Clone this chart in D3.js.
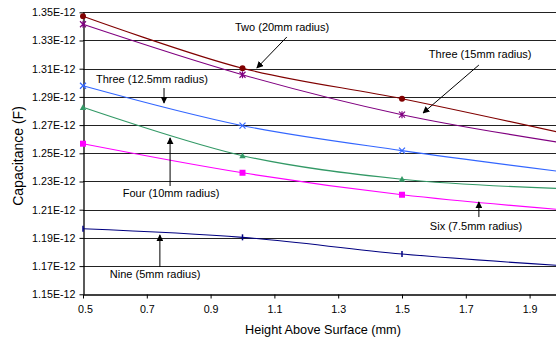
<!DOCTYPE html>
<html><head><meta charset="utf-8">
<script src="https://cdn.jsdelivr.net/npm/d3@7"></script>
<style>
html,body{margin:0;padding:0;background:#fff;overflow:hidden}
text{font-family:"Liberation Sans",Arial,sans-serif;fill:#000}
</style></head>
<body><svg id="chart" width="556" height="340"></svg>
<script>
// ---- data ----
const heights = [0.5, 1.0, 1.5, 2.0];
const twoR20   = [1.3472e-12, 1.3103e-12, 1.2887e-12, 1.2645e-12];
const threeR15 = [1.3415e-12, 1.3057e-12, 1.2774e-12, 1.2575e-12];
const threeR125= [1.2979e-12, 1.2696e-12, 1.2519e-12, 1.2370e-12];
const fourR10  = [1.2826e-12, 1.2483e-12, 1.2316e-12, 1.2250e-12];
const sixR75   = [1.2568e-12, 1.2362e-12, 1.2206e-12, 1.2100e-12];
const nineR5   = [1.1965e-12, 1.1904e-12, 1.1786e-12, 1.1703e-12];
const xTicks = [0.5, 0.7, 0.9, 1.1, 1.3, 1.5, 1.7, 1.9];
const yTicks = [1.15e-12,1.17e-12,1.19e-12,1.21e-12,1.23e-12,1.25e-12,1.27e-12,1.29e-12,1.31e-12,1.33e-12,1.35e-12];
const seriesNames = ["Two (20mm radius)","Three (15mm radius)","Three (12.5mm radius)","Four (10mm radius)","Six (7.5mm radius)","Nine (5mm radius)"];
const xTitle = "Height Above Surface (mm)";
const yTitle = "Capacitance (F)";

// ---- layout / styles ----
const series = [
  {name:seriesNames[0], values:twoR20,    color:"#800000", marker:"circle"},
  {name:seriesNames[1], values:threeR15,  color:"#800080", marker:"star"},
  {name:seriesNames[2], values:threeR125, color:"#3366FF", marker:"x"},
  {name:seriesNames[3], values:fourR10,   color:"#339966", marker:"triangle"},
  {name:seriesNames[4], values:sixR75,    color:"#FF00FF", marker:"square"},
  {name:seriesNames[5], values:nineR5,    color:"#000080", marker:"dash"}
];
// annotation label centre and arrow (from -> tip), in data units
const notes = [
  {s:0, lx:1.124, ly:1.3389e-12, ax1:1.139, ay1:1.3325e-12, ax2:1.045, ay2:1.3105e-12},
  {s:1, lx:1.745, ly:1.3197e-12, ax1:1.741, ay1:1.3126e-12, ax2:1.566, ay2:1.2786e-12},
  {s:2, lx:0.716, ly:1.3020e-12, ax1:0.754, ay1:1.2963e-12, ax2:0.754, ay2:1.2857e-12},
  {s:3, lx:0.776, ly:1.2211e-12, ax1:0.773, ay1:1.2268e-12, ax2:0.773, ay2:1.2609e-12},
  {s:4, lx:1.732, ly:1.1977e-12, ax1:1.741, ay1:1.2048e-12, ax2:1.741, ay2:1.2155e-12},
  {s:5, lx:0.726, ly:1.1637e-12, ax1:0.741, ay1:1.1694e-12, ax2:0.741, ay2:1.1921e-12}
];

const svg = d3.select("#chart");
const L = 83, R = 561.5, T = 12.3, B = 294.3;
const x = d3.scaleLinear().domain([0.5, 2.0]).range([L, R]);
const y = d3.scaleLinear().domain([1.15e-12, 1.35e-12]).range([B, T]);

const defs = svg.append("defs");
defs.append("marker").attr("id","arr").attr("viewBox","0 0 10 10")
  .attr("refX",9).attr("refY",5).attr("markerWidth",7).attr("markerHeight",7)
  .attr("markerUnits","userSpaceOnUse").attr("orient","auto")
  .append("path").attr("d","M0,0 L10,5 L0,10 z").attr("fill","#000");

// gridlines
svg.append("g").selectAll("line").data(yTicks.slice(1)).join("line")
  .attr("x1",L).attr("x2",556).attr("y1",d=>Math.round(y(d))+0.5).attr("y2",d=>Math.round(y(d))+0.5)
  .attr("stroke","#222").attr("stroke-width",1);

// axes
const fmtY = d => (d*1e12).toFixed(2) + "E-12";
const yAxis = svg.append("g").attr("transform",`translate(${L+0.5},0)`)
  .call(d3.axisLeft(y).tickValues(yTicks).tickFormat(fmtY).tickSize(4).tickSizeOuter(0));
const xAxis = svg.append("g").attr("transform",`translate(0,${Math.round(B)+0.5})`)
  .call(d3.axisBottom(x).tickValues(xTicks).tickFormat(d3.format(".1f")).tickSize(4).tickSizeOuter(0));
[yAxis,xAxis].forEach(a=>{
  a.selectAll("path").attr("stroke","#000").attr("stroke-width",1.3);
  a.selectAll("line").attr("stroke","#000");
  a.selectAll("text").attr("font-size","10.7px").attr("font-family","Liberation Sans, Arial, sans-serif").attr("fill","#000");
});
yAxis.selectAll("text").attr("dx","-1");
xAxis.selectAll("text").attr("dy","1.05em");
xAxis.select(".tick:first-of-type text").attr("dx","2");

// lines
const line = d3.line().x((d,i)=>x(heights[i])).y(d=>y(d)).curve(d3.curveCardinal.tension(0));
const g = svg.append("g");
series.forEach(s=>{
  g.append("path").attr("d",line(s.values)).attr("fill","none").attr("stroke",s.color).attr("stroke-width",1.1);
  const pts = s.values.map((v,i)=>[x(heights[i]), y(v)]);
  pts.forEach(([px,py])=>{
    const m = g.append("g").attr("transform",`translate(${px},${py})`);
    if (s.marker==="circle") m.append("circle").attr("r",3).attr("fill",s.color);
    else if (s.marker==="square") m.append("rect").attr("x",-3).attr("y",-3).attr("width",6).attr("height",6).attr("fill",s.color);
    else if (s.marker==="triangle") m.append("path").attr("d","M0,-3.2 L3.2,2.6 L-3.2,2.6 Z").attr("fill",s.color);
    else if (s.marker==="x") m.append("path").attr("d","M-3,-3 L3,3 M-3,3 L3,-3").attr("stroke",s.color).attr("stroke-width",1.2);
    else if (s.marker==="star") m.append("path").attr("d","M-3,-3 L3,3 M-3,3 L3,-3 M0,-3.5 L0,3.5").attr("stroke",s.color).attr("stroke-width",1.2);
    else if (s.marker==="dash") m.append("path").attr("d","M0,-3 L0,3").attr("stroke",s.color).attr("stroke-width",1.5);
  });
});

// annotations
notes.forEach(n=>{
  svg.append("text").attr("x",x(n.lx)).attr("y",y(n.ly)).attr("text-anchor","middle")
    .attr("dominant-baseline","middle").attr("font-size","11px").text(series[n.s].name);
  svg.append("line").attr("x1",x(n.ax1)).attr("y1",y(n.ay1)).attr("x2",x(n.ax2)).attr("y2",y(n.ay2))
    .attr("stroke","#000").attr("stroke-width",1).attr("marker-end","url(#arr)");
});

// titles
svg.append("text").attr("x",323).attr("y",334).attr("text-anchor","middle").attr("font-size","12.7px").text(xTitle);
svg.append("text").attr("transform",`translate(23,156) rotate(-90)`).attr("text-anchor","middle")
  .attr("font-size","14px").text(yTitle);
</script></body></html>
